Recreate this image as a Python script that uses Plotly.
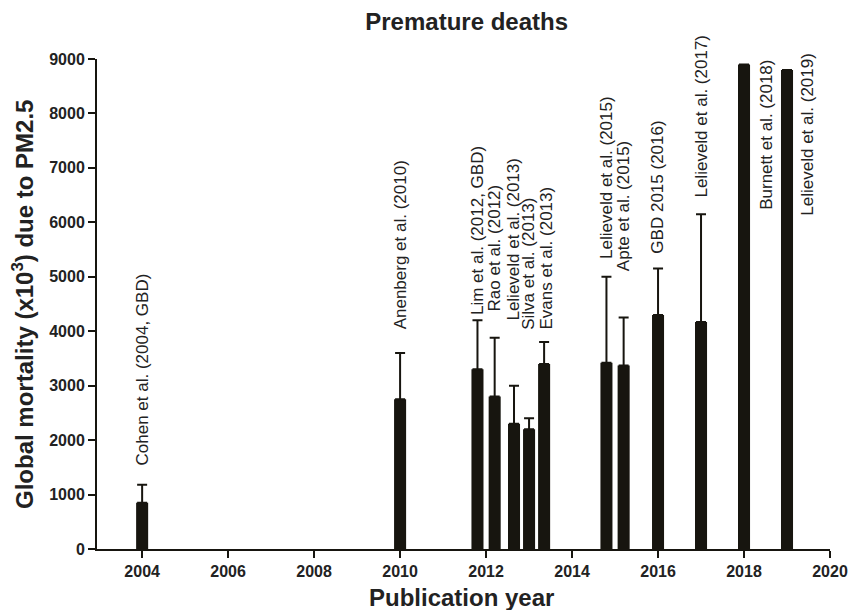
import plotly.graph_objects as go

# ---- data ----
studies = ["Cohen et al. (2004, GBD)", "Anenberg et al. (2010)", "Lim et al. (2012, GBD)",
           "Rao et al. (2012)", "Lelieveld et al. (2013)", "Silva et al. (2013)",
           "Evans et al. (2013)", "Lelieveld et al. (2015)", "Apte et al. (2015)",
           "GBD 2015 (2016)", "Lelieveld et al. (2017)", "Burnett et al. (2018)",
           "Lelieveld et al. (2019)"]
pub_year = [2004.0, 2010.0, 2011.8, 2012.2, 2012.65, 2013.0, 2013.35,
            2014.8, 2015.2, 2016.0, 2017.0, 2018.0, 2019.0]
mortality = [850, 2750, 3300, 2800, 2300, 2200, 3400, 3420, 3370, 4300, 4170, 8900, 8800]
upper_bound = [1180, 3600, 4200, 3880, 3000, 2400, 3800, 5000, 4250, 5150, 6150, 8900, 8800]
# label anchor (year, value at the base of the rotated text)
label_year = [2004.0, 2010.0, 2011.8, 2012.2, 2012.65, 2013.0, 2013.4,
              2014.8, 2015.2, 2016.0, 2017.0, 2018.53, 2019.47]
label_base = [1500, 3990, 4260, 4330, 4150, 3990, 3990, 5290, 5060, 5380, 6410, 6190, 6080]
x_ticks = [2004, 2006, 2008, 2010, 2012, 2014, 2016, 2018, 2020]
y_ticks = [0, 1000, 2000, 3000, 4000, 5000, 6000, 7000, 8000, 9000]

BAR = "#17150f"
TXT = "#222222"
FONT = "Liberation Sans, Arial, sans-serif"

err_plus = [u - m for u, m in zip(upper_bound, mortality)]

fig = go.Figure()
fig.add_trace(go.Bar(
    x=pub_year, y=mortality, width=0.28,
    marker=dict(color=BAR, line=dict(width=0)),
    error_y=dict(type="data", symmetric=False, array=err_plus,
                 arrayminus=[0] * len(mortality), color=BAR, thickness=2, width=5),
    hoverinfo="x+y", showlegend=False,
))

for name, lx, ly in zip(studies, label_year, label_base):
    fig.add_annotation(x=lx, y=ly, text=name, textangle=-90, showarrow=False,
                       xanchor="center", yanchor="bottom",
                       font=dict(family=FONT, size=17, color=TXT))

# axis titles
fig.add_annotation(xref="paper", yref="paper", x=0.4966, y=-0.098,
                   text="<b>Publication year</b>", showarrow=False,
                   xanchor="center", yanchor="middle",
                   font=dict(family=FONT, size=24, color=TXT))
fig.add_annotation(xref="paper", yref="paper", x=-0.101, y=0.5,
                   text="<b>Global mortality (x10<sup>3</sup>) due to PM2.5</b>",
                   textangle=-90, showarrow=False, xanchor="center", yanchor="middle",
                   font=dict(family=FONT, size=24, color=TXT))

fig.update_layout(
    width=850, height=610,
    margin=dict(l=97, r=20, t=59, b=61),
    paper_bgcolor="white", plot_bgcolor="white",
    title=dict(text="<b>Premature deaths</b>", x=0.549, xanchor="center",
               y=0.964, yanchor="middle",
               font=dict(family=FONT, size=24, color=TXT)),
    font=dict(family=FONT, color=TXT),
)
fig.update_xaxes(range=[2002.95, 2020], tickvals=x_ticks, automargin=False,
                 ticktext=[f"<b>{t}</b>" for t in x_ticks],
                 showline=True, linecolor=BAR, linewidth=2, ticks="outside", ticklen=7,
                 tickwidth=2, tickcolor=BAR, showgrid=False, zeroline=False,
                 tickfont=dict(family=FONT, size=16, color=TXT))
fig.update_yaxes(range=[0, 9000], tickvals=y_ticks, automargin=False,
                 ticktext=[f"<b>{t}</b>" for t in y_ticks],
                 showline=True, linecolor=BAR, linewidth=2, ticks="outside", ticklen=7,
                 tickwidth=2, tickcolor=BAR, showgrid=False, zeroline=False,
                 tickfont=dict(family=FONT, size=16, color=TXT))

fig.write_html("out.html", config={"displayModeBar": False},
               post_script="document.body.style.margin='0';document.body.style.overflow='hidden';")
